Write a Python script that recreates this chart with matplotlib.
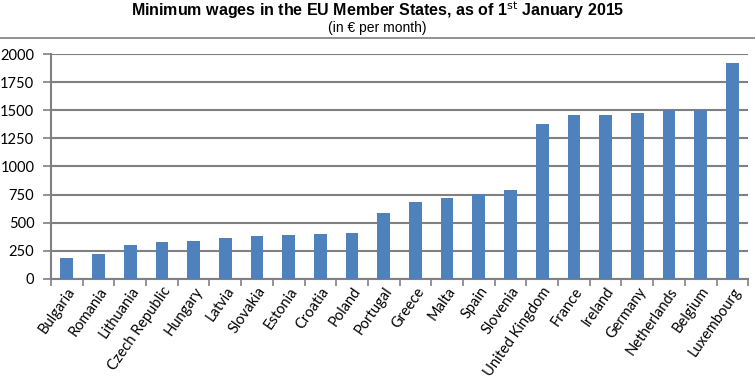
import numpy as np
import matplotlib.pyplot as plt
from matplotlib.lines import Line2D

countries = ['Bulgaria', 'Romania', 'Lithuania', 'Czech Republic', 'Hungary', 'Latvia',
             'Slovakia', 'Estonia', 'Croatia', 'Poland', 'Portugal', 'Greece', 'Malta',
             'Spain', 'Slovenia', 'United Kingdom', 'France', 'Ireland', 'Germany',
             'Netherlands', 'Belgium', 'Luxembourg']
wages = [184, 218, 300, 332, 333, 360, 380, 390, 396, 410, 589, 684, 720, 757, 791,
         1379, 1458, 1462, 1473, 1502, 1502, 1923]
yticks = [0, 250, 500, 750, 1000, 1250, 1500, 1750, 2000]

fig = plt.figure(figsize=(7.55, 3.79), dpi=100)
ax = fig.add_axes([0.0675, 0.264, 0.9235, 0.5935])

x = np.arange(len(countries))
ax.bar(x, wages, width=0.4, color='#4F81BD', zorder=3)

ax.set_xlim(-0.5, len(countries) - 0.5)
ax.set_ylim(0, 2000)
ax.set_yticks(yticks)
ax.set_yticklabels([str(v) for v in yticks], fontsize=10.5, family='Lato')
ax.yaxis.grid(True, color='#808080', linewidth=1.5, zorder=0)
ax.tick_params(axis='y', length=6, width=1.2, color='#808080', pad=6)

# category labels at centres, tick marks at the boundaries
ax.set_xticks(x)
ax.set_xticklabels(countries, rotation=55, ha='right', rotation_mode='anchor',
                   fontsize=10.5, family='Lato')
ax.tick_params(axis='x', length=0, pad=4)
ax.set_xticks(np.arange(len(countries) + 1) - 0.5, minor=True)
ax.tick_params(axis='x', which='minor', length=5, width=1.2, color='#808080')

for s in ['top', 'right']:
    ax.spines[s].set_visible(False)
for s in ['left', 'bottom']:
    ax.spines[s].set_color('#808080')
    ax.spines[s].set_linewidth(1.5)

fig.text(0.5, 0.958, 'Minimum wages in the EU Member States, as of 1$^{\\mathrm{st}}$ January 2015',
         ha='center', va='baseline', fontsize=11.5, fontweight='bold', family='Liberation Sans')
fig.text(0.5, 0.925, '(in € per month)', ha='center', va='center', fontsize=10,
         family='Liberation Sans')
fig.add_artist(Line2D([0, 1], [0.9, 0.9], color='#808080', linewidth=1.2))

fig.savefig('out.png', dpi=100)
